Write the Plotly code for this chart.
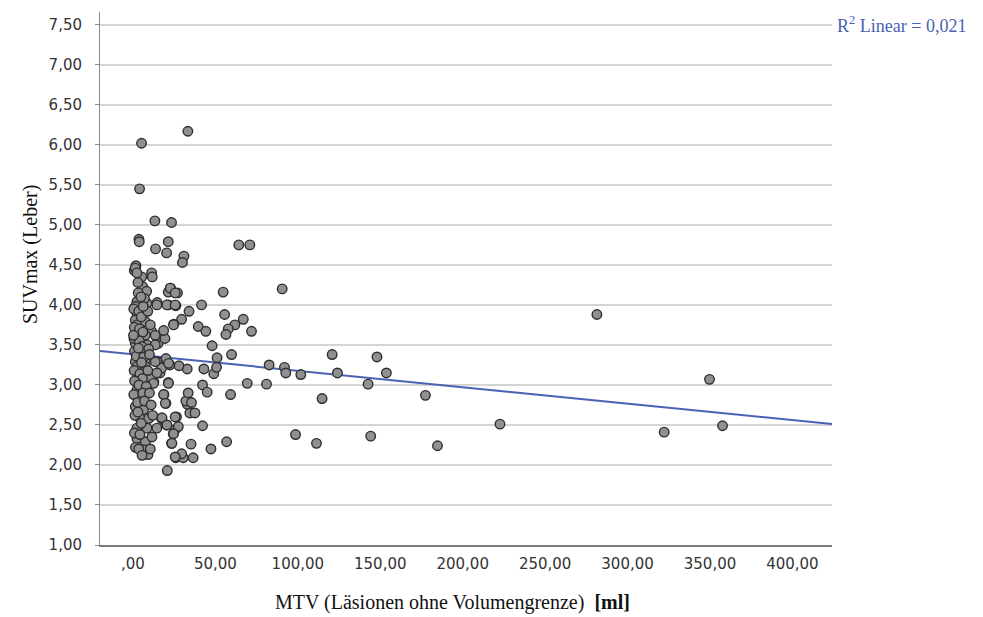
import plotly.graph_objects as go

# ---- data ----
mtv = [
    5.2, 33.3, 4.0, 13.3, 23.4, 3.6, 3.8, 21.4, 13.7, 20.4, 30.9, 30.0, 1.8, 0.8, 5.3, 11.3, 11.7,
    22.8, 21.4, 27.0, 5.9, 8.3, 3.2, 41.6, 34.0, 29.5, 24.8, 14.7, 21.4, 26.0, 39.6, 44.2,
    64.2, 70.9, 54.7, 90.5, 55.6, 61.8, 66.9, 71.9, 57.8, 56.4, 48.0, 51.0, 59.8, 43.0, 49.0, 50.7,
    42.2, 45.0, 59.2, 69.3, 81.0, 82.6, 91.9, 92.7, 101.8, 120.8, 124.0, 114.7, 142.6, 148.0, 153.7,
    177.4, 184.7, 222.6, 281.4, 322.2, 349.7, 357.6, 42.2, 47.3, 56.8, 98.6, 111.3, 144.2,
    20.8, 26.0, 30.5, 29.5, 36.5, 23.4, 35.2, 25.5, 27.5, 24.4, 26.4, 20.4, 17.4, 34.5, 32.9, 37.6,
    32.1, 35.5, 33.5, 20.0, 18.8, 21.4, 32.9, 27.9, 22.4, 20.0, 14.7, 12.7, 10.7, 16.4, 17.4, 15.3,
    14.4, 19.4, 11.3,
    1.4, 2.4, 22.6, 25.6, 2.4, 1.4, 8.5, 14.5, 20.6, 25.6, 2.4, 1.4, 2.4, 7.5, 10.5, 24.6, 1.4, 2.4,
    7.5, 13.5, 18.6, 1.4, 8.5, 13.5, 1.4, 7.5, 13.5, 21.6, 2.4, 7.5, 10.5, 12.5, 14.5, 2.4, 4.4, 1.4,
    21.5, 18.6, 19.6, 6.4, 4.4, 9.5, 17.6, 25.6, 2.4, 8.5, 14.5, 20.6, 24.6, 2.4, 7.5, 23.6, 6.4, 9.1,
    25.6,
    0.5, 3.5, 5.0, 0.8, 4.0, 6.0, 0.6, 3.8, 5.5, 9.5, 0.9, 4.5, 2.0, 6.5, 10.0, 0.7, 4.2, 5.8, 1.0,
    3.6, 8.0, 0.5, 6.0, 2.8, 7.0, 1.2, 3.0, 5.0, 0.9, 4.2, 1.5, 3.5, 5.5, 10.5, 11.5, 3.0, 7.0, 9.0,
    6.2, 4.8, 0.3, 11.0, 12.0, 10.0, 9.0, 3.3, 5.2,
]
suv = [
    6.02, 6.17, 5.45, 5.05, 5.03, 4.82, 4.79, 4.79, 4.70, 4.65, 4.61, 4.53, 4.49, 4.43, 4.35, 4.40, 4.35,
    4.21, 4.16, 4.15, 4.23, 4.17, 4.15, 4.00, 3.92, 3.82, 3.76, 4.03, 4.00, 3.99, 3.73, 3.67,
    4.75, 4.75, 4.16, 4.20, 3.88, 3.75, 3.82, 3.67, 3.70, 3.63, 3.49, 3.34, 3.38, 3.20, 3.14, 3.22,
    3.00, 2.91, 2.88, 3.02, 3.01, 3.25, 3.22, 3.15, 3.13, 3.38, 3.15, 2.83, 3.01, 3.35, 3.15,
    2.87, 2.24, 2.51, 3.88, 2.41, 3.07, 2.49, 2.49, 2.20, 2.29, 2.38, 2.27, 2.36,
    1.93, 2.09, 2.09, 2.14, 2.09, 2.27, 2.26, 2.44, 2.48, 2.39, 2.60, 2.50, 2.58, 2.65, 2.76, 2.65,
    2.80, 2.78, 2.90, 2.77, 2.88, 3.03, 3.20, 3.24, 3.25, 3.33, 3.29, 3.04, 3.08, 3.15, 3.21, 3.52,
    3.60, 3.58, 3.67,
    4.46, 4.40, 4.21, 4.15, 4.04, 3.98, 4.02, 4.00, 4.00, 4.00, 3.89, 3.81, 3.75, 3.79, 3.75, 3.75, 3.67, 3.60,
    3.62, 3.62, 3.68, 3.52, 3.50, 3.50, 3.29, 3.29, 3.29, 3.27, 3.23, 3.23, 3.10, 3.02, 3.15, 2.94, 2.83, 2.73,
    3.02, 2.88, 2.77, 2.69, 2.58, 2.58, 2.59, 2.60, 2.46, 2.46, 2.46, 2.50, 2.39, 2.33, 2.29, 2.27, 2.19, 2.13,
    2.10,
    3.95, 3.92, 3.85, 3.72, 3.70, 3.66, 3.58, 3.55, 3.48, 3.45, 3.42, 3.40, 3.36, 3.35, 3.38, 3.18, 3.14, 3.08, 3.05,
    3.00, 2.98, 2.88, 2.90, 2.78, 2.80, 2.62, 2.66, 2.52, 2.40, 2.38, 2.22, 2.20, 2.12, 2.20, 2.35, 4.28, 4.08, 3.92,
    3.98, 4.10, 3.62, 2.75, 2.62, 2.90, 3.18, 3.46, 3.28,
]

# linear fit (R² = 0,021)
fit_intercept = 3.382
fit_slope = -0.00205
r2_text = "0,021"

x_tickvals = [0, 50, 100, 150, 200, 250, 300, 350, 400]
x_ticktext = [",00", "50,00", "100,00", "150,00", "200,00", "250,00", "300,00", "350,00", "400,00"]
y_tickvals = [1.0, 1.5, 2.0, 2.5, 3.0, 3.5, 4.0, 4.5, 5.0, 5.5, 6.0, 6.5, 7.0, 7.5]
y_ticktext = ["1,00", "1,50", "2,00", "2,50", "3,00", "3,50", "4,00", "4,50", "5,00",
              "5,50", "6,00", "6,50", "7,00", "7,50"]

x_title = "MTV (Läsionen ohne Volumengrenze)  <b>[ml]</b>"
y_title = "SUVmax (Leber)"

x_range = [-20, 424]
y_range = [1.0, 7.66]

fig = go.Figure()

fit_x = x_range
fit_y = [fit_intercept + fit_slope * v for v in fit_x]
fig.add_trace(go.Scatter(
    x=fit_x, y=fit_y, mode="lines",
    line=dict(color="#4a62b4", width=2), hoverinfo="skip", showlegend=False,
))

fig.add_trace(go.Scatter(
    x=mtv, y=suv, mode="markers",
    marker=dict(size=9.5, color="#909090", line=dict(color="#2e2e2e", width=1.4)),
    showlegend=False,
))

# the page body adds an 8px offset; figure is sized so the plot area lands at x 100-832, y 12-545
fig.update_layout(
    width=975, height=609,
    margin=dict(l=92, r=151, t=4, b=72),
    paper_bgcolor="white", plot_bgcolor="white",
    font=dict(family="DejaVu Sans", size=15, color="#333333"),
    xaxis=dict(
        range=x_range, tickvals=x_tickvals, ticktext=x_ticktext,
        showgrid=False, zeroline=False, automargin=False,
        showline=True, linecolor="#7a7a7a", linewidth=2,
        ticks="", ticklabelstandoff=4,
        tickfont=dict(family="DejaVu Sans", size=15, color="#333333"),
    ),
    yaxis=dict(
        range=y_range, tickvals=y_tickvals, ticktext=y_ticktext,
        showgrid=True, gridcolor="#d4d4d4", gridwidth=1.6, zeroline=False, automargin=False,
        showline=True, linecolor="#8a8a8a", linewidth=1,
        ticks="outside", ticklen=4, tickcolor="#8a8a8a", ticklabelstandoff=10,
        tickfont=dict(family="DejaVu Sans", size=15, color="#333333"),
    ),
)

# axis titles placed as annotations for exact positioning
fig.add_annotation(
    text=x_title, xref="paper", yref="paper", x=0.482, y=-0.107,
    xanchor="center", yanchor="middle", showarrow=False,
    font=dict(family="Liberation Serif", size=20, color="#111111"),
)
fig.add_annotation(
    text=y_title, xref="paper", yref="paper", x=-0.0956, y=0.544,
    xanchor="center", yanchor="middle", textangle=-90, showarrow=False,
    font=dict(family="Liberation Serif", size=20, color="#111111"),
)

fig.add_annotation(
    text="R<sup>2</sup> Linear = " + r2_text,
    xref="paper", yref="y", x=1.004, y=7.5, xanchor="left", yanchor="middle",
    showarrow=False, font=dict(family="Liberation Serif", size=18, color="#4a62b4"),
)

fig.write_html("out.html")
